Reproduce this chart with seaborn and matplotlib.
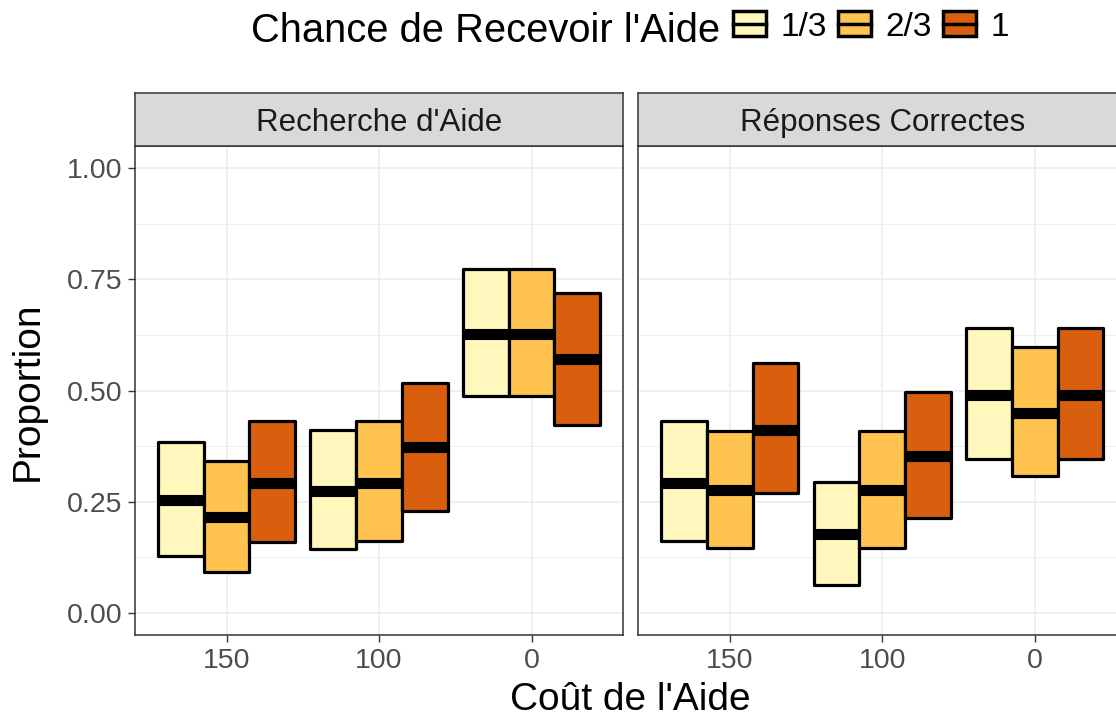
import numpy as np
import pandas as pd
import seaborn as sns
import matplotlib
matplotlib.use("Agg")
import matplotlib.pyplot as plt
from matplotlib.patches import Patch, Rectangle
from matplotlib.lines import Line2D
from matplotlib.ticker import MultipleLocator, FixedLocator

# ---------------- data ----------------
panels = ["Recherche d'Aide", "Réponses Correctes"]
costs = ["150", "100", "0"]
chances = ["1/3", "2/3", "1"]
colors = ["#FFF7BC", "#FEC44F", "#D95F0E"]

# values ordered cost-major (150, 100, 0), chance-minor (1/3, 2/3, 1)
help_mid = [0.254, 0.216, 0.291, 0.275, 0.291, 0.374, 0.627, 0.627, 0.571]
help_lo = [0.128, 0.093, 0.160, 0.144, 0.162, 0.230, 0.488, 0.488, 0.422]
help_hi = [0.385, 0.341, 0.431, 0.411, 0.431, 0.518, 0.773, 0.773, 0.719]

corr_mid = [0.293, 0.276, 0.412, 0.177, 0.276, 0.353, 0.489, 0.450, 0.489]
corr_lo = [0.162, 0.145, 0.269, 0.063, 0.145, 0.213, 0.345, 0.308, 0.345]
corr_hi = [0.432, 0.410, 0.561, 0.295, 0.410, 0.496, 0.641, 0.597, 0.641]

y_ticks = [0.00, 0.25, 0.50, 0.75, 1.00]
y_ticklabels = ["0.00", "0.25", "0.50", "0.75", "1.00"]


def crossbar_table(lo, mid, hi):
    # table for seaborn boxplot: quartiles = lo/hi, median = mid
    rows = []
    k = 0
    for c in costs:
        for h in chances:
            for v in (lo[k], lo[k], mid[k], hi[k], hi[k]):
                rows.append({"cost": c, "chance": h, "value": v})
            k += 1
    return pd.DataFrame(rows)


tables = [crossbar_table(help_lo, help_mid, help_hi),
          crossbar_table(corr_lo, corr_mid, corr_hi)]


class CrossbarKey:
    def legend_artist(self, legend, orig_handle, fontsize, handlebox):
        x0, y0 = handlebox.xdescent, handlebox.ydescent
        w, h = handlebox.width, handlebox.height
        tr = handlebox.get_transform()
        rect = Rectangle((x0, y0), w, h, facecolor=orig_handle.get_facecolor(),
                         edgecolor="black", linewidth=2.5, transform=tr)
        line = Line2D([x0, x0 + w], [y0 + h / 2, y0 + h / 2], color="black",
                      linewidth=2.5, transform=tr)
        handlebox.add_artist(rect)
        handlebox.add_artist(line)
        return rect


# ---------------- style ----------------
plt.rcParams["font.family"] = ["Liberation Sans", "DejaVu Sans"]

W, H = 1116, 719
fig = plt.figure(figsize=(W / 100, H / 100), dpi=100)

panel_left = [135.0, 638.2]
panel_w = 488.0
panel_top, panel_bot = 146.0, 635.1
strip_top = 93.3

grid_c = "#EBEBEB"
border_c = "#333333"

for i, (name, df) in enumerate(zip(panels, tables)):
    ax = fig.add_axes([panel_left[i] / W, 1 - panel_bot / H,
                       panel_w / W, (panel_bot - panel_top) / H])
    ax.set_facecolor("white")
    sns.boxplot(data=df, x="cost", y="value", hue="chance",
                order=costs, hue_order=chances, palette=colors,
                saturation=1, width=0.9, gap=0, dodge=True, whis=0,
                showcaps=False, showfliers=False, linecolor="black",
                linewidth=2.3, legend=False, ax=ax,
                medianprops=dict(color="black", linewidth=8,
                                 solid_capstyle="butt"),
                boxprops=dict(joinstyle="round"))
    ax.set_xlim(-0.6, 2.6)
    ax.set_ylim(-0.05, 1.05)
    ax.yaxis.set_major_locator(FixedLocator(y_ticks))
    ax.yaxis.set_minor_locator(MultipleLocator(0.125))
    ax.set_axisbelow(True)
    ax.grid(True, which="major", color=grid_c, linewidth=1.1)
    ax.grid(True, which="minor", axis="y", color=grid_c, linewidth=0.6)
    ax.tick_params(which="minor", length=0)
    ax.tick_params(which="major", length=5, width=1.0, color=border_c,
                   labelsize=20.5, labelcolor="#4D4D4D", pad=4)
    ax.set_xlabel("")
    ax.set_ylabel("")
    if i == 0:
        ax.set_yticklabels(y_ticklabels)
    else:
        ax.tick_params(axis="y", which="both", left=False, labelleft=False)
    for sp in ax.spines.values():
        sp.set_color(border_c)
        sp.set_linewidth(1.1)

    # facet strip
    sax = fig.add_axes([panel_left[i] / W, 1 - panel_top / H,
                        panel_w / W, (panel_top - strip_top) / H])
    sax.set_facecolor("#D9D9D9")
    sax.set_xticks([])
    sax.set_yticks([])
    for sp in sax.spines.values():
        sp.set_color(border_c)
        sp.set_linewidth(1.1)
    sax.text(0.5, 0.5, name, ha="center", va="center_baseline",
             fontsize=22.5, color="#1A1A1A", transform=sax.transAxes)

# axis titles
fig.text(28 / W, 1 - 391.5 / H, "Proportion", rotation=90,
         ha="center", va="center", fontsize=28, color="black")
fig.text(629.9 / W, 1 - 710 / H, "Coût de l'Aide",
         ha="center", va="baseline", fontsize=28, color="black")

# legend
fig.text(720 / W, 1 - 41.7 / H, "Chance de Recevoir l'Aide",
         ha="right", va="baseline", fontsize=28.7, color="black")
handles = [Patch(facecolor=c, edgecolor="black") for c in colors]
fig.legend(handles=handles, labels=chances,
           handler_map={Patch: CrossbarKey()},
           loc="center left", bbox_to_anchor=(733 / W, 1 - 28 / H),
           ncol=3, frameon=False, fontsize=24, handlelength=1.0,
           handleheight=0.75, handletextpad=0.42, columnspacing=0.34,
           borderpad=0, borderaxespad=0)

fig.savefig("out.png", dpi=100)
